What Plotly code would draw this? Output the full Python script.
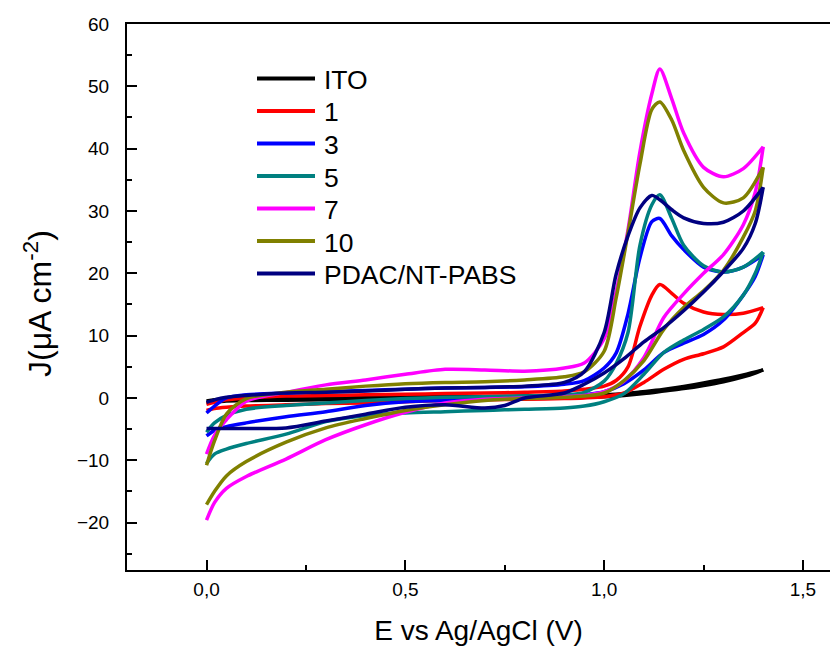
import plotly.graph_objects as go

# Potential grids (V)
E_FWD = [0, 0.02, 0.05, 0.1, 0.2, 0.3, 0.4, 0.5, 0.6, 0.7, 0.8, 0.9, 0.95, 1.0,
         1.03, 1.06, 1.09, 1.12, 1.14, 1.17, 1.2, 1.25, 1.3, 1.35, 1.4]
E_REV = [1.4, 1.38, 1.35, 1.3, 1.25, 1.2, 1.15, 1.1, 1.05, 1.0, 0.95, 0.9, 0.8,
         0.75, 0.7, 0.6, 0.5, 0.4, 0.3, 0.2, 0.1, 0.05, 0.02, 0]

# Current densities (uA cm-2)
ITO_F = [-0.5, -0.3, -0.1, 0.0, 0.1, 0.15, 0.2, 0.2, 0.25, 0.25, 0.3, 0.35, 0.4, 0.5,
         0.6, 0.75, 0.95, 1.15, 1.3, 1.55, 1.85, 2.4, 3.0, 3.7, 4.5]
ITO_R = [4.5, 4.0, 3.4, 2.6, 2.0, 1.5, 1.1, 0.7, 0.4, 0.2, 0.1, 0.0, -0.1, -0.1, -0.15,
         -0.2, -0.2, -0.25, -0.3, -0.35, -0.4, -0.5, -0.6, -0.8]

L1_F = [-1.0, -0.7, -0.3, 0.0, 0.3, 0.4, 0.5, 0.6, 0.7, 0.8, 0.9, 1.1, 1.4, 1.9,
        2.8, 5.0, 11.5, 16.5, 18.2, 16.8, 15.2, 13.8, 13.4, 13.6, 14.5]
L1_R = [14.5, 12.0, 10.5, 8.2, 7.1, 6.2, 4.6, 2.5, 0.8, 0.2, 0.0, -0.1, -0.2, -0.25,
        -0.3, -0.4, -0.6, -0.8, -0.9, -1.1, -1.3, -1.5, -1.7, -2.0]

L3_F = [-2.4, -1.3, 0.0, 0.5, 0.8, 1.0, 1.2, 1.4, 1.6, 1.7, 1.8, 2.2, 2.8, 4.8,
        7.2, 13.5, 22.5, 28.3, 28.8, 26.0, 23.8, 21.0, 20.2, 21.0, 23.0]
L3_R = [23.0, 19.5, 16.5, 12.5, 10.2, 8.8, 7.3, 4.5, 2.3, 1.0, 0.5, 0.2, 0.0, -0.1,
        -0.2, -0.4, -0.6, -1.2, -2.2, -3.0, -4.0, -4.6, -5.2, -6.1]

L5_F = [-5.5, -4.0, -2.8, -1.8, -1.2, -0.8, -0.4, -0.1, 0.1, 0.2, 0.3, 0.5, 0.9, 2.7,
        5.5, 10.5, 24.5, 31.0, 32.6, 28.8, 24.5, 21.2, 20.2, 21.0, 23.4]
L5_R = [23.4, 20.0, 16.5, 13.0, 11.0, 9.3, 7.3, 3.8, 0.7, -0.6, -1.3, -1.6, -1.8, -1.9,
        -2.0, -2.2, -2.4, -2.8, -3.8, -5.8, -7.3, -8.2, -9.0, -10.5]

L7_F = [-9.0, -6.0, -3.5, -0.5, 0.9, 2.1, 2.9, 3.8, 4.6, 4.5, 4.3, 4.8, 5.6, 9.5,
        17.0, 27.0, 39.5, 48.8, 52.8, 48.0, 42.5, 37.0, 35.5, 36.8, 40.3]
L7_R = [40.3, 33.0, 27.8, 23.0, 20.0, 16.7, 12.9, 6.5, 2.7, 1.0, 0.4, 0.2, 0.0, -0.1,
        -0.2, -0.8, -2.3, -4.3, -6.7, -9.8, -12.6, -14.5, -16.8, -19.6]

L10_F = [-10.8, -6.9, -2.6, -0.1, 0.9, 1.4, 1.9, 2.3, 2.5, 2.6, 2.9, 3.4, 4.2, 7.5,
         16.0, 26.5, 37.5, 46.3, 47.5, 44.6, 39.7, 33.8, 31.3, 32.1, 37.0]
L10_R = [37.0, 30.0, 25.8, 20.5, 17.2, 14.5, 11.0, 6.0, 2.8, 0.8, 0.3, 0.1, -0.1, -0.2,
         -0.4, -1.1, -2.0, -3.3, -4.8, -7.1, -10.2, -12.5, -15.0, -17.1]

PD_F = [-0.7, -0.3, 0.1, 0.4, 0.8, 0.9, 1.1, 1.4, 1.6, 1.7, 1.9, 2.5, 4.2, 10.5,
        19.8, 26.0, 30.5, 32.5, 31.8, 30.2, 28.9, 28.0, 28.2, 30.0, 33.8]
PD_R = [33.8, 28.0, 24.0, 20.3, 17.0, 14.0, 11.3, 9.0, 6.3, 4.0, 2.2, 0.8, 0.0, -1.2,
        -1.6, -1.1, -1.5, -2.6, -3.7, -4.8, -4.9, -4.9, -4.9, -4.9]

NAMES = ["ITO", "1", "3", "5", "7", "10", "PDAC/NT-PABS"]
COLORS = ["#000000", "#FF0000", "#0000FF", "#008080", "#FF00FF", "#808000", "#000080"]
FWD = [ITO_F, L1_F, L3_F, L5_F, L7_F, L10_F, PD_F]
REV = [ITO_R, L1_R, L3_R, L5_R, L7_R, L10_R, PD_R]

X_TICKS = [0, 0.5, 1.0, 1.5]
X_TICKTEXT = ["0,0", "0,5", "1,0", "1,5"]
Y_TITLE = "J(μA cm<sup>-2</sup>)"

# layout geometry (pixels)
W, H = 830, 650
ML, MR, MT, MB = 127, 0, 24, 80
PW, PH = W - ML - MR, H - MT - MB


def px(x):
    return (x - ML) / PW


def py(y):
    return (H - MB - y) / PH


fig = go.Figure()
for name, col, jf, jr in zip(NAMES, COLORS, FWD, REV):
    fig.add_trace(go.Scatter(x=E_FWD, y=jf, mode="lines", name=name, legendgroup=name,
                             showlegend=False,
                             line=dict(color=col, width=3.5, shape="spline", smoothing=0.8)))
    fig.add_trace(go.Scatter(x=E_REV, y=jr, mode="lines", name=name, legendgroup=name,
                             showlegend=False,
                             line=dict(color=col, width=3.5, shape="spline", smoothing=0.8)))

sans = "Liberation Sans, Arial, sans-serif"

# hand-placed legend (line sample + label) to match the original's compact spacing
LEG_X0, LEG_X1, LEG_TX, LEG_Y0, LEG_DY = 257, 315, 322, 78.5, 32.5
shapes, annotations = [], []
for i, (name, col) in enumerate(zip(NAMES, COLORS)):
    yc = LEG_Y0 + i * LEG_DY
    shapes.append(dict(type="line", xref="paper", yref="paper",
                       x0=px(LEG_X0), x1=px(LEG_X1), y0=py(yc), y1=py(yc),
                       line=dict(color=col, width=4)))
    annotations.append(dict(text=name, xref="paper", yref="paper",
                            x=px(LEG_TX), y=py(yc + 1.5), xanchor="left", yanchor="middle",
                            showarrow=False, font=dict(size=26.5, family=sans, color="black")))

# y-axis title as a rotated annotation (placed like the original)
annotations.append(dict(text=Y_TITLE, xref="paper", yref="paper",
                        x=px(38), y=py(304), xanchor="center", yanchor="middle",
                        textangle=-90, showarrow=False,
                        font=dict(size=32, family=sans, color="black")))

fig.update_layout(
    width=W, height=H,
    margin=dict(l=ML, r=MR, t=MT, b=MB),
    paper_bgcolor="white", plot_bgcolor="white",
    font=dict(family=sans, color="black"),
    showlegend=False,
    shapes=shapes, annotations=annotations,
    xaxis=dict(range=[-0.2, 1.568], showgrid=False, zeroline=False,
               showline=True, linecolor="black", linewidth=2, mirror=True,
               ticks="inside", ticklen=10, tickwidth=2, tickcolor="black",
               tickvals=X_TICKS, ticktext=X_TICKTEXT,
               tickfont=dict(size=19, family=sans), ticklabelstandoff=1,
               minor=dict(dtick=0.25, tick0=0, ticks="inside", ticklen=5,
                          tickwidth=2, tickcolor="black"),
               title=dict(text="E vs Ag/AgCl (V)", font=dict(size=28, family=sans),
                          standoff=22)),
    yaxis=dict(range=[-27.6, 60], showgrid=False, zeroline=False,
               showline=True, linecolor="black", linewidth=2,
               ticks="inside", ticklen=10, tickwidth=2, tickcolor="black",
               dtick=10, tick0=0, tickfont=dict(size=19, family=sans),
               ticklabelstandoff=12,
               minor=dict(dtick=5, tick0=0, ticks="inside", ticklen=5,
                          tickwidth=2, tickcolor="black")),
)

fig.write_html("out.html")
